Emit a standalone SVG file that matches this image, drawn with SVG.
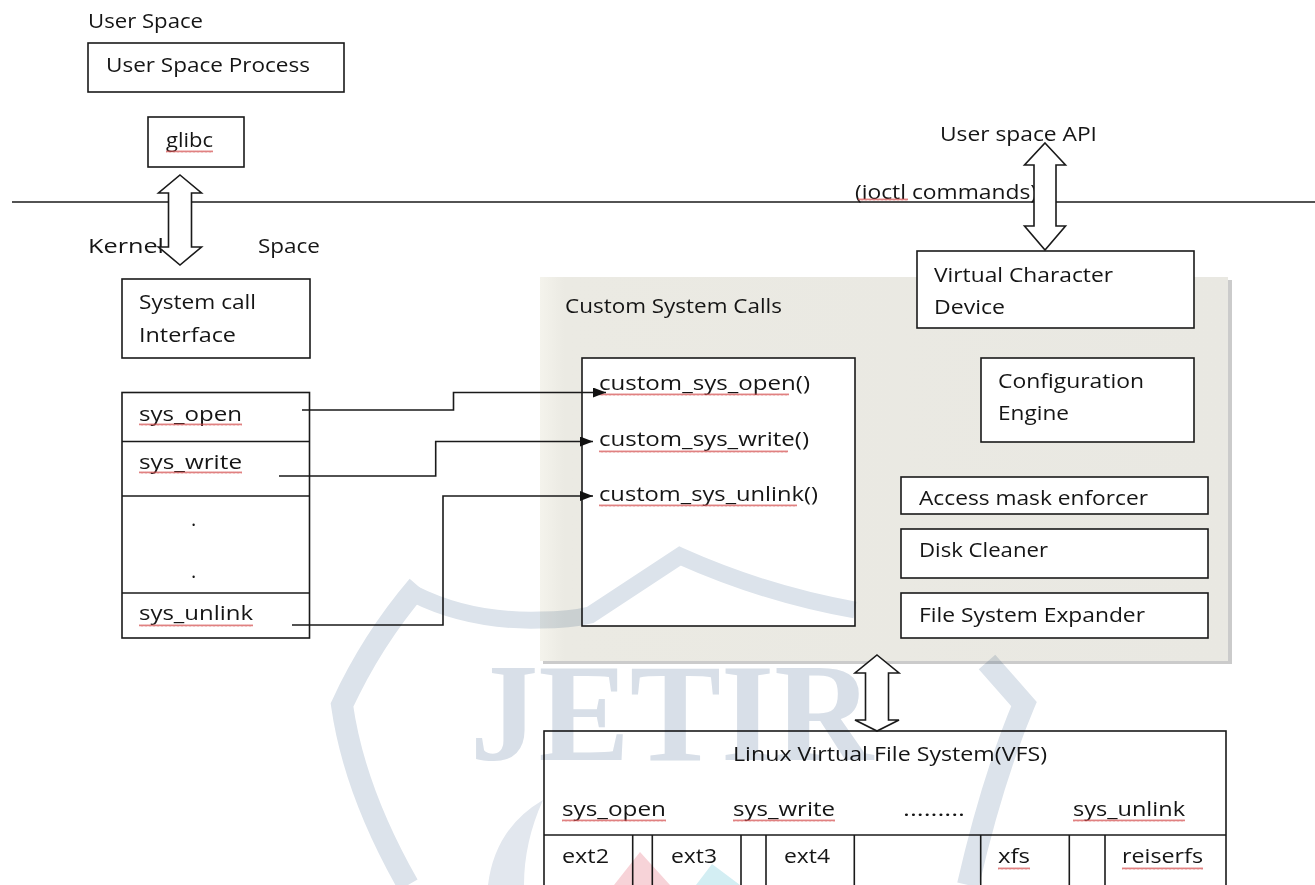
<svg xmlns="http://www.w3.org/2000/svg" width="1315" height="885" viewBox="0 0 1315 885">
<defs>
<style>
text{font-family:"Open Sans","Liberation Sans",sans-serif;font-size:20px;fill:#151515}
.box{fill:#ffffff;stroke:#1a1a1a;stroke-width:1.6}
.ln{fill:none;stroke:#1a1a1a;stroke-width:1.6}
.dbl{fill:#ffffff;stroke:#1a1a1a;stroke-width:1.6;stroke-linejoin:miter}
.sq{fill:url(#wave)}
.wmb{fill:none;stroke:#dce3eb}
</style>
<pattern id="wave" x="0" y="0" width="4" height="3" patternUnits="userSpaceOnUse">
<path d="M0,2.5 L1,0.5 L2,2.5 L3,0.5 L4,2.5" fill="none" stroke="#d24a4a" stroke-width="0.7"/>
</pattern>
<marker id="ah" viewBox="0 0 13 10" refX="13" refY="5" markerWidth="13" markerHeight="10" markerUnits="userSpaceOnUse" orient="auto">
<path d="M0,0 L13,5 L0,10 Z" fill="#111"/>
</marker>
<linearGradient id="cg" x1="0" y1="0" x2="1" y2="0">
<stop offset="0" stop-color="#f4f3ec"/>
<stop offset="0.035" stop-color="#ebeae3"/>
<stop offset="1" stop-color="#e9e8e2"/>
</linearGradient>
</defs>
<rect x="0" y="0" width="1315" height="885" fill="#ffffff"/>

<g id="user-space-label"><text x="88" y="28" textLength="115" lengthAdjust="spacingAndGlyphs">User Space</text></g>
<g id="user-space-process"><rect class="box" x="88" y="43" width="256" height="49"/><text x="106" y="72" textLength="204" lengthAdjust="spacingAndGlyphs">User Space Process</text></g>
<g id="glibc"><rect class="box" x="148" y="117" width="96" height="50"/><text x="166" y="147" textLength="47" lengthAdjust="spacingAndGlyphs">glibc</text><rect class="sq" x="166" y="150" width="47" height="3"/></g>

<g id="boundary"><line class="ln" x1="12" y1="202" x2="1315" y2="202"/></g>

<g id="kernel-space-label"><text x="88" y="253" textLength="76" lengthAdjust="spacingAndGlyphs">Kernel</text><text x="258" y="253" textLength="62" lengthAdjust="spacingAndGlyphs">Space</text></g>

<g id="syscall-interface"><rect class="box" x="122" y="279" width="188" height="79"/><text x="139" y="309" textLength="117" lengthAdjust="spacingAndGlyphs">System call</text><text x="139" y="342" textLength="97" lengthAdjust="spacingAndGlyphs">Interface</text></g>

<g id="syscall-table">
<rect class="box" x="122" y="392.5" width="187.5" height="245.5"/>
<line class="ln" x1="122" y1="441.5" x2="309.5" y2="441.5"/>
<line class="ln" x1="122" y1="496" x2="309.5" y2="496"/>
<line class="ln" x1="122" y1="593" x2="309.5" y2="593"/>
<text x="139" y="421" textLength="103" lengthAdjust="spacingAndGlyphs">sys_open</text><rect class="sq" x="139" y="423" width="103" height="3"/>
<text x="139" y="469" textLength="103" lengthAdjust="spacingAndGlyphs">sys_write</text><rect class="sq" x="139" y="471" width="103" height="3"/>
<text x="191" y="526">.</text>
<text x="191" y="578">.</text>
<text x="139" y="620" textLength="114" lengthAdjust="spacingAndGlyphs">sys_unlink</text><rect class="sq" x="139" y="624" width="114" height="3"/>
</g>

<g id="custom-system-calls">
<rect x="543" y="280" width="689" height="384" fill="#cbcbcb"/>
<rect x="540" y="277" width="688" height="384" fill="url(#cg)"/>
<text x="565" y="313" textLength="217" lengthAdjust="spacingAndGlyphs">Custom System Calls</text>
</g>

<g id="custom-calls-box">
<rect class="box" x="582" y="358" width="273" height="268"/>
<text x="599" y="390" textLength="211" lengthAdjust="spacingAndGlyphs">custom_sys_open()</text><rect class="sq" x="599" y="393" width="190" height="3"/>
<text x="599" y="446" textLength="210" lengthAdjust="spacingAndGlyphs">custom_sys_write()</text><rect class="sq" x="599" y="450" width="189" height="3"/>
<text x="599" y="501" textLength="219" lengthAdjust="spacingAndGlyphs">custom_sys_unlink()</text><rect class="sq" x="599" y="504" width="198" height="3"/>
</g>

<g id="user-space-api"><text x="940" y="141" textLength="157" lengthAdjust="spacingAndGlyphs">User space API</text></g>
<g id="ioctl-label"><text x="855" y="199" textLength="182" lengthAdjust="spacingAndGlyphs">(ioctl commands)</text><rect class="sq" x="858" y="198" width="50" height="3"/></g>

<g id="virtual-character-device"><rect class="box" x="917" y="251" width="277" height="77"/><text x="934" y="282" textLength="179" lengthAdjust="spacingAndGlyphs">Virtual Character</text><text x="934" y="314" textLength="71" lengthAdjust="spacingAndGlyphs">Device</text></g>
<g id="configuration-engine"><rect class="box" x="981" y="358" width="213" height="84"/><text x="998" y="388" textLength="146" lengthAdjust="spacingAndGlyphs">Configuration</text><text x="998" y="420" textLength="71" lengthAdjust="spacingAndGlyphs">Engine</text></g>
<g id="access-mask-enforcer"><rect class="box" x="901" y="477" width="307" height="37"/><text x="919" y="505" textLength="229" lengthAdjust="spacingAndGlyphs">Access mask enforcer</text></g>
<g id="disk-cleaner"><rect class="box" x="901" y="529" width="307" height="49"/><text x="919" y="557" textLength="129" lengthAdjust="spacingAndGlyphs">Disk Cleaner</text></g>
<g id="file-system-expander"><rect class="box" x="901" y="593" width="307" height="45"/><text x="919" y="622" textLength="226" lengthAdjust="spacingAndGlyphs">File System Expander</text></g>

<g id="vfs">
<rect class="box" x="544" y="731" width="682" height="170"/>
<line class="ln" x1="544" y1="835" x2="1226" y2="835"/>
<line class="ln" x1="632.7" y1="835" x2="632.7" y2="886"/>
<line class="ln" x1="652.3" y1="835" x2="652.3" y2="886"/>
<line class="ln" x1="741" y1="835" x2="741" y2="886"/>
<line class="ln" x1="766" y1="835" x2="766" y2="886"/>
<line class="ln" x1="854.3" y1="835" x2="854.3" y2="886"/>
<line class="ln" x1="980.7" y1="835" x2="980.7" y2="886"/>
<line class="ln" x1="1069.3" y1="835" x2="1069.3" y2="886"/>
<line class="ln" x1="1105" y1="835" x2="1105" y2="886"/>
<text x="733" y="761" textLength="314" lengthAdjust="spacingAndGlyphs">Linux Virtual File System(VFS)</text>
<text x="562" y="816" textLength="104" lengthAdjust="spacingAndGlyphs">sys_open</text><rect class="sq" x="562" y="819" width="104" height="3"/>
<text x="733" y="816" textLength="102" lengthAdjust="spacingAndGlyphs">sys_write</text><rect class="sq" x="733" y="819" width="102" height="3"/>
<text x="903" y="816" textLength="62" lengthAdjust="spacingAndGlyphs">.........</text>
<text x="1073" y="816" textLength="112" lengthAdjust="spacingAndGlyphs">sys_unlink</text><rect class="sq" x="1073" y="819" width="112" height="3"/>
<text x="562" y="863" textLength="47" lengthAdjust="spacingAndGlyphs">ext2</text>
<text x="671" y="863" textLength="46" lengthAdjust="spacingAndGlyphs">ext3</text>
<text x="784" y="863" textLength="46" lengthAdjust="spacingAndGlyphs">ext4</text>
<text x="998" y="863" textLength="32" lengthAdjust="spacingAndGlyphs">xfs</text><rect class="sq" x="998" y="867" width="32" height="3"/>
<text x="1122" y="863" textLength="81" lengthAdjust="spacingAndGlyphs">reiserfs</text><rect class="sq" x="1122" y="867" width="81" height="3"/>
</g>

<g id="connectors">
<path class="dbl" d="M180,175 L201.5,193 L191.5,193 L191.5,247 L201.5,247 L180,265 L158.5,247 L168.5,247 L168.5,193 L158.5,193 Z"/>
<path class="dbl" d="M1045,143 L1065.5,165 L1056,165 L1056,226 L1065.5,226 L1045,250 L1024.5,226 L1034,226 L1034,165 L1024.5,165 Z"/>
<path class="dbl" d="M877,655 L899,673 L888.5,673 L888.5,720 L899,720 L877,731 L855,720 L865.5,720 L865.5,673 L855,673 Z"/>
<path class="ln" d="M302,410 H453.5 V392.5 H606" marker-end="url(#ah)"/>
<path class="ln" d="M279,476 H435.7 V441.5 H593" marker-end="url(#ah)"/>
<path class="ln" d="M292,625 H443 V496 H593" marker-end="url(#ah)"/>
</g>

<g id="watermark" style="mix-blend-mode:multiply">
<path class="wmb" d="M408,885 Q354,790 342,705 Q372,640 418,586" stroke-width="22"/>
<path class="wmb" d="M414,594 Q470,622 540,620 Q570,620 590,615 L680,556 Q765,594 855,610" stroke-width="17" stroke-linejoin="miter"/>
<path class="wmb" d="M987,662 L1024,704 Q992,780 968,885" stroke-width="22"/>
<text x="470" y="760" textLength="403" lengthAdjust="spacingAndGlyphs" style="font-family:'Liberation Serif',serif;font-weight:bold;font-size:140px;fill:#d8dfe8">JETIR</text>
<path d="M488,885 Q495,828 543,800 Q524,842 524,885 Z" fill="#e2e7ee"/>
<path d="M640,852 L614,885 L670,885 Z" fill="#f7d3d8"/>
<path d="M712,864 L696,885 L740,885 Z" fill="#d3eef3"/>
</g>
</svg>
